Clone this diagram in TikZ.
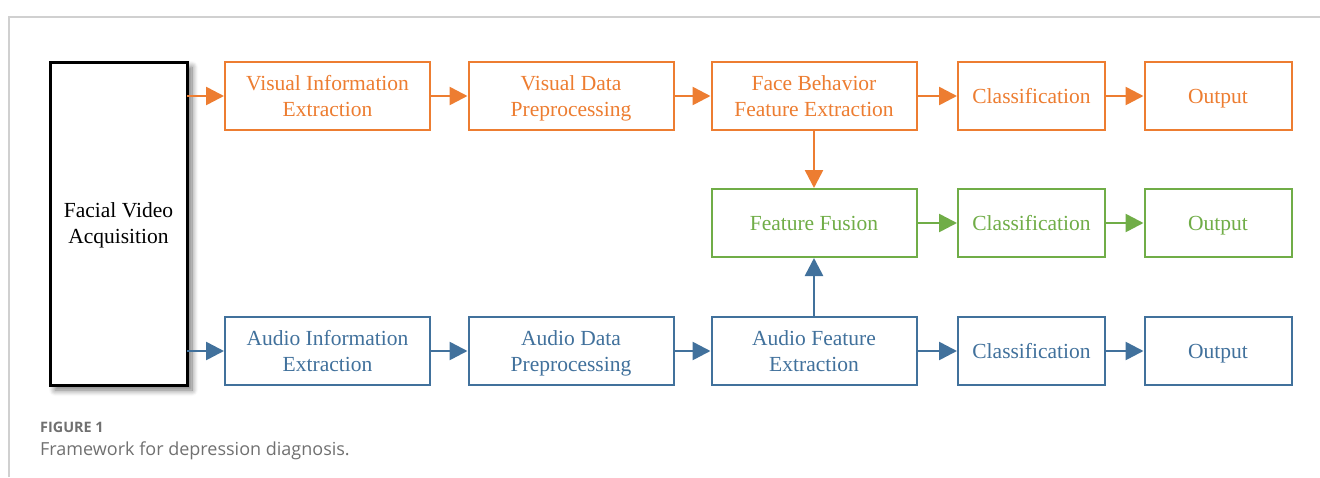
\documentclass[tikz,border=0pt]{standalone}
\usepackage{fontspec}
\setmainfont{Liberation Serif}
\newfontfamily\capfont{Open Sans}
\usetikzlibrary{arrows.meta,shadows.blur}
\definecolor{vorange}{HTML}{ED7D31}
\definecolor{fgreen}{HTML}{70AD47}
\definecolor{ablue}{HTML}{41719C}
\definecolor{framegrey}{HTML}{D0D0D0}
\definecolor{capgrey}{HTML}{707070}
% one line of box text with a uniform strut
\newcommand{\bl}[1]{\rule[-5.8pt]{0pt}{26pt}#1}
\tikzset{
  box/.style={draw, line width=2pt, fill=white, inner sep=0pt, align=center,
    font=\fontsize{21.5}{26}\selectfont},
  wide/.style={box, minimum width=205pt, minimum height=68pt},
  narrow/.style={box, minimum width=147pt, minimum height=68pt},
  flow/.style={line width=2.6pt, -{Triangle[length=18pt,width=18pt]}},
}
\begin{document}
\begin{tikzpicture}[x=1pt,y=-1pt]
\useasboundingbox (0,0) rectangle (1320,477);
% page frame
\draw[framegrey, line width=1.5pt] (9,477) -- (9,17) -- (1320,17);

% source block
\node[draw=black, line width=3pt, fill=white, minimum width=137pt, minimum height=323pt,
      align=center, font=\fontsize{21.5}{26}\selectfont,
      blur shadow={shadow xshift=5pt, shadow yshift=-5pt, shadow blur steps=10, shadow blur radius=6pt, shadow blur extra rounding=0pt, shadow opacity=55}]
  (src) at (118.5,223.5) {\bl{Facial Video}\\\bl{Acquisition}};

% visual branch
\begin{scope}[every node/.append style={draw=vorange, text=vorange}]
  \node[wide]   (v1) at (327.5,96) {\bl{Visual Information}\\\bl{Extraction}};
  \node[wide]   (v2) at (571,96)   {\bl{Visual Data}\\\bl{Preprocessing}};
  \node[wide]   (v3) at (814,96)   {\bl{Face Behavior}\\\bl{Feature Extraction}};
  \node[narrow] (v4) at (1031.5,96) {\bl{Classification}};
  \node[narrow] (v5) at (1218,96)  {\bl{Output}};
\end{scope}

% fusion branch
\begin{scope}[every node/.append style={draw=fgreen, text=fgreen}]
  \node[wide]   (f1) at (814,223)   {\bl{Feature Fusion}};
  \node[narrow] (f2) at (1031.5,223) {\bl{Classification}};
  \node[narrow] (f3) at (1218,223)  {\bl{Output}};
\end{scope}

% audio branch
\begin{scope}[every node/.append style={draw=ablue, text=ablue}]
  \node[wide]   (a1) at (327.5,351) {\bl{Audio Information}\\\bl{Extraction}};
  \node[wide]   (a2) at (571,351)   {\bl{Audio Data}\\\bl{Preprocessing}};
  \node[wide]   (a3) at (814,351)   {\bl{Audio Feature}\\\bl{Extraction}};
  \node[narrow] (a4) at (1031.5,351) {\bl{Classification}};
  \node[narrow] (a5) at (1218,351)  {\bl{Output}};
\end{scope}

% connectors
\draw[flow, vorange] ([xshift=-1.5pt]src.east |- v1.west) -- (v1.west);
\draw[flow, vorange] (v1) -- (v2);
\draw[flow, vorange] (v2) -- (v3);
\draw[flow, vorange] (v3) -- (v4);
\draw[flow, vorange] (v4) -- (v5);
\draw[flow, vorange] (v3) -- (f1);

\draw[flow, fgreen] (f1) -- (f2);
\draw[flow, fgreen] (f2) -- (f3);

\draw[flow, ablue] ([xshift=-1.5pt]src.east |- a1.west) -- (a1.west);
\draw[flow, ablue] (a1) -- (a2);
\draw[flow, ablue] (a2) -- (a3);
\draw[flow, ablue] (a3) -- (a4);
\draw[flow, ablue] (a4) -- (a5);
\draw[flow, ablue] (a3) -- (f1);

% caption
\node[anchor=base west, inner sep=0pt, text=capgrey, font=\capfont\bfseries\fontsize{14.4}{16}\selectfont]
  (capnum) at (40,432) {FIGURE 1};
\node[anchor=base west, inner sep=0pt, text=capgrey, font=\capfont\fontsize{18}{21}\selectfont]
  (captxt) at (40,455) {Framework for depression diagnosis.};
\end{tikzpicture}
\end{document}
